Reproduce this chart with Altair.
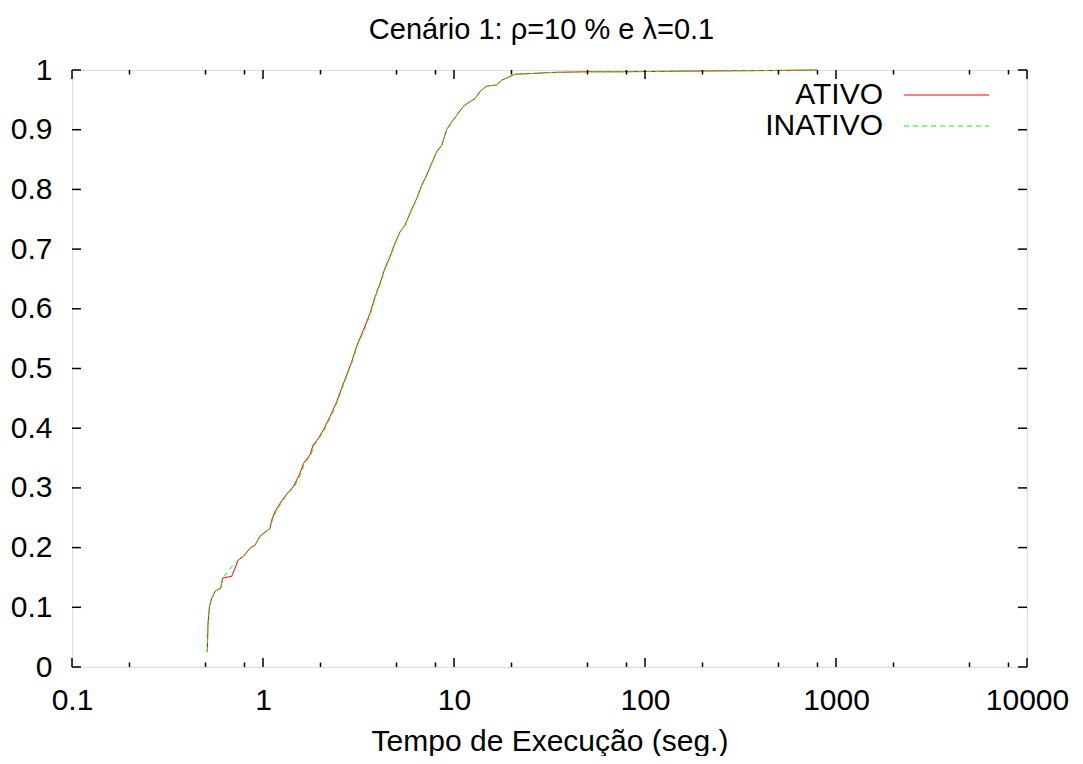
import altair as alt
import pandas as pd

# ---- data ----
ativo_x = [0.511, 0.515, 0.524, 0.539, 0.561, 0.600, 0.615, 0.686, 0.742, 0.789, 0.855, 0.908,
           0.964, 1.045, 1.088, 1.11, 1.155, 1.227, 1.32, 1.44, 1.55, 1.63, 1.76, 1.83, 1.95,
           2.07, 2.24, 2.43, 2.58, 2.74, 2.91, 3.09, 3.35, 3.63, 3.86, 4.10, 4.35, 4.62, 4.91,
           5.22, 5.54, 5.88, 6.38, 6.78, 7.20, 7.64, 8.12, 8.62, 9.16, 9.72, 10.33, 11.19,
           12.13, 12.88, 13.68, 14.83, 16.74, 17.77, 19.6, 20.9, 25.0, 33.0, 49.5, 74, 150,
           400, 795]
ativo_y = [0.025, 0.07, 0.101, 0.115, 0.127, 0.132, 0.149, 0.152, 0.179, 0.185, 0.199, 0.204,
           0.219, 0.228, 0.232, 0.246, 0.26, 0.274, 0.288, 0.302, 0.322, 0.341, 0.355, 0.372,
           0.383, 0.397, 0.419, 0.444, 0.467, 0.489, 0.511, 0.537, 0.564, 0.592, 0.62, 0.643,
           0.668, 0.687, 0.71, 0.729, 0.74, 0.76, 0.785, 0.807, 0.824, 0.844, 0.863, 0.874,
           0.9, 0.913, 0.924, 0.939, 0.947, 0.952, 0.964, 0.973, 0.975, 0.983, 0.989, 0.993,
           0.994, 0.996, 0.997, 0.997, 0.998, 0.999, 1.0]

inativo_x = [0.511, 0.515, 0.524, 0.539, 0.561, 0.600, 0.615, 0.646, 0.686, 0.742, 0.789,
             0.855, 0.908, 0.964, 1.045, 1.09, 1.12, 1.17, 1.24, 1.33, 1.46, 1.57, 1.65,
             1.78, 1.86, 1.97, 2.09, 2.26, 2.45, 2.60, 2.76, 2.93, 3.11, 3.38, 3.66, 3.88,
             4.12, 4.37, 4.64, 4.93, 5.22, 5.54, 5.90, 6.40, 6.80, 7.22, 7.66, 8.14, 8.62,
             9.16, 9.72, 10.33, 11.19, 12.13, 12.88, 13.68, 14.83, 16.74, 17.77, 19.6, 20.9,
             25.0, 33.0, 49.5, 74, 150, 400, 795]
inativo_y = [0.025, 0.07, 0.101, 0.115, 0.127, 0.132, 0.149, 0.157, 0.168, 0.179, 0.185,
             0.199, 0.204, 0.219, 0.228, 0.232, 0.246, 0.26, 0.274, 0.288, 0.302, 0.322,
             0.341, 0.355, 0.372, 0.383, 0.397, 0.419, 0.444, 0.467, 0.489, 0.511, 0.537,
             0.564, 0.592, 0.62, 0.643, 0.668, 0.687, 0.71, 0.729, 0.74, 0.76, 0.785, 0.807,
             0.824, 0.844, 0.863, 0.874, 0.9, 0.913, 0.924, 0.939, 0.947, 0.952, 0.964,
             0.973, 0.975, 0.983, 0.989, 0.993, 0.994, 0.996, 0.997, 0.997, 0.998, 0.999, 1.0]

series_names = ["ATIVO", "INATIVO"]
series_colors = ["#ff0000", "#00ff00"]

x_major = [0.1, 1, 10, 100, 1000, 10000]
x_minor = [0.2, 0.5, 0.8, 2, 5, 8, 20, 50, 80, 200, 500, 800, 2000, 5000, 8000]
y_major = [0, 0.1, 0.2, 0.3, 0.4, 0.5, 0.6, 0.7, 0.8, 0.9, 1]

title_text = "Cenário 1: ρ=10 % e λ=0.1"
x_title = "Tempo de Execução (seg.)"

W, H = 955, 597
FONT = "Liberation Sans"
FS = 30

df = pd.concat([
    pd.DataFrame({"x": ativo_x, "y": ativo_y, "s": series_names[0], "o": range(len(ativo_x))}),
    pd.DataFrame({"x": inativo_x, "y": inativo_y, "s": series_names[1], "o": range(len(inativo_x))}),
])

xs = alt.Scale(type="log", domain=[0.1, 10000])
ys = alt.Scale(domain=[0, 1])

base_x_axis = alt.Axis(values=x_major, format="~g", grid=False, ticks=False, tickSize=0,
                       labelFontSize=FS, labelFont=FONT, labelColor="black",
                       labelBaseline="alphabetic", labelPadding=42, domain=False,
                       labelFlush=False, labelOverlap=False, labelBound=False,
                       title=x_title, titleFontSize=FS, titleFont=FONT, titleFontWeight="normal",
                       titleColor="black", titleBaseline="alphabetic", titleY=83)
base_y_axis = alt.Axis(values=y_major, format="~g", grid=False, ticks=False, tickSize=0,
                       labelFontSize=FS, labelFont=FONT, labelColor="black",
                       labelFlush=False, labelOverlap=False,
                       labelPadding=20, domain=False, title=None)

line_a = alt.Chart(df[df.s == series_names[0]]).mark_line(
    color=series_colors[0], strokeWidth=1, interpolate="linear"
).encode(
    x=alt.X("x:Q", scale=xs, axis=base_x_axis),
    y=alt.Y("y:Q", scale=ys, axis=base_y_axis),
    order="o:Q",
)
line_b = alt.Chart(df[df.s == series_names[1]]).mark_line(
    color=series_colors[1], strokeWidth=1, strokeDash=[5, 4]
).encode(
    x=alt.X("x:Q", scale=xs),
    y=alt.Y("y:Q", scale=ys),
    order="o:Q",
)

tick_style = dict(color="black", strokeWidth=1.5)
xmaj_df = pd.DataFrame({"v": x_major})
xmin_df = pd.DataFrame({"v": x_minor})
ymaj_df = pd.DataFrame({"v": y_major})

xt_bot = alt.Chart(xmaj_df).mark_rule(**tick_style).encode(
    x=alt.X("v:Q", scale=xs), y=alt.value(H), y2=alt.value(H - 9))
xt_top = alt.Chart(xmaj_df).mark_rule(**tick_style).encode(
    x=alt.X("v:Q", scale=xs), y=alt.value(0), y2=alt.value(9))
xm_bot = alt.Chart(xmin_df).mark_rule(**tick_style).encode(
    x=alt.X("v:Q", scale=xs), y=alt.value(H), y2=alt.value(H - 4.5))
xm_top = alt.Chart(xmin_df).mark_rule(**tick_style).encode(
    x=alt.X("v:Q", scale=xs), y=alt.value(0), y2=alt.value(4.5))
yt_left = alt.Chart(ymaj_df).mark_rule(**tick_style).encode(
    y=alt.Y("v:Q", scale=ys), x=alt.value(0), x2=alt.value(9))
yt_right = alt.Chart(ymaj_df).mark_rule(**tick_style).encode(
    y=alt.Y("v:Q", scale=ys), x=alt.value(W - 9), x2=alt.value(W))

# title as a text mark above the frame
title_layer = alt.Chart(pd.DataFrame({"t": [title_text]})).mark_text(
    align="center", baseline="alphabetic", font=FONT, fontSize=29, color="black"
).encode(text="t:N", x=alt.value(W / 2 - 8), y=alt.value(-31))

# legend (top-right, gnuplot style: label then sample)
leg_rows = [25, 56]
legend_layers = []
for i, name in enumerate(series_names):
    ldf = pd.DataFrame({"label": [name]})
    legend_layers.append(
        alt.Chart(ldf).mark_text(align="right", baseline="middle", font=FONT, fontSize=FS,
                                 color="black").encode(
            text="label:N", x=alt.value(811), y=alt.value(leg_rows[i])))
    rule_kw = dict(color=series_colors[i], strokeWidth=1)
    if i == 1:
        rule_kw["strokeDash"] = [5, 4]
    legend_layers.append(
        alt.Chart(ldf).mark_rule(**rule_kw).encode(
            x=alt.value(832), x2=alt.value(917), y=alt.value(leg_rows[i])))

chart = alt.layer(
    line_a, line_b, xt_bot, xt_top, xm_bot, xm_top, yt_left, yt_right, title_layer,
    *legend_layers
).properties(
    width=W, height=H,
    autosize=alt.AutoSizeParams(type="none"),
    padding={"left": 64, "top": 62, "right": 46, "bottom": 89},
).configure_view(
    stroke="black", strokeWidth=1.5
).configure(background="white")

chart.save("out.html", embed_options={"renderer": "svg", "actions": False})
